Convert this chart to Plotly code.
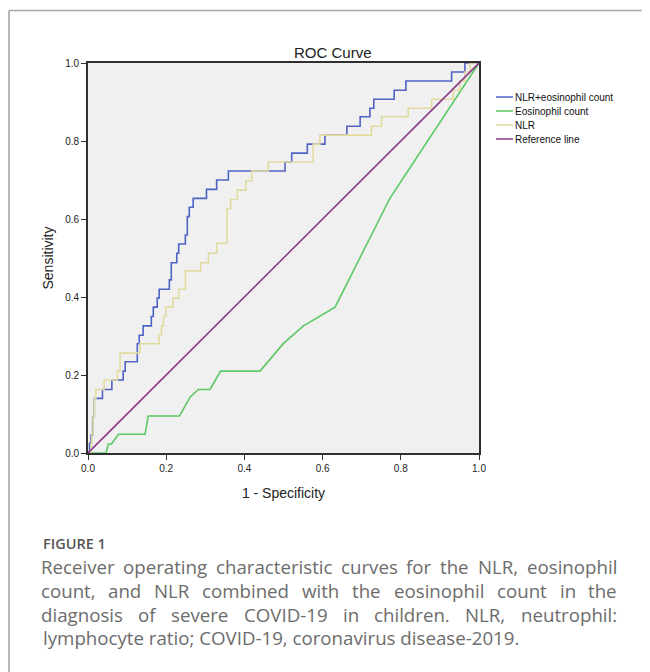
import plotly.graph_objects as go

# ---------------- data ----------------
series_names = ["NLR+eosinophil count", "Eosinophil count", "NLR", "Reference line"]

nlr_eos_fpr = [0.0, 0.004, 0.008, 0.012, 0.016, 0.037, 0.061, 0.090, 0.095, 0.126, 0.131,
               0.141, 0.162, 0.167, 0.177, 0.182, 0.208, 0.213, 0.227, 0.232, 0.249, 0.254,
               0.259, 0.269, 0.303, 0.329, 0.359, 0.504, 0.521, 0.561, 0.606, 0.662, 0.696,
               0.721, 0.731, 0.783, 0.813, 0.930, 0.964, 1.0]
nlr_eos_tpr = [0.0, 0.025, 0.046, 0.093, 0.140, 0.163, 0.187, 0.210, 0.234, 0.280, 0.302,
               0.326, 0.350, 0.374, 0.397, 0.420, 0.444, 0.488, 0.512, 0.536, 0.559, 0.606,
               0.630, 0.653, 0.676, 0.700, 0.723, 0.746, 0.769, 0.792, 0.815, 0.838, 0.862,
               0.884, 0.907, 0.930, 0.954, 0.977, 1.0, 1.0]

eos_fpr = [0.0, 0.046, 0.052, 0.060, 0.078, 0.146, 0.154, 0.234, 0.261, 0.282, 0.312,
           0.339, 0.440, 0.500, 0.551, 0.632, 0.772, 1.0]
eos_tpr = [0.0, 0.0, 0.023, 0.023, 0.048, 0.048, 0.095, 0.095, 0.143, 0.163, 0.163,
           0.210, 0.210, 0.281, 0.326, 0.374, 0.653, 1.0]

nlr_fpr = [0.0, 0.008, 0.010, 0.013, 0.016, 0.020, 0.041, 0.075, 0.082, 0.133, 0.182,
           0.188, 0.193, 0.199, 0.217, 0.232, 0.249, 0.288, 0.308, 0.329, 0.355, 0.365,
           0.382, 0.404, 0.419, 0.461, 0.576, 0.593, 0.725, 0.751, 0.819, 0.879, 0.934,
           0.951, 0.964, 0.977, 1.0]
nlr_tpr = [0.0, 0.025, 0.050, 0.093, 0.140, 0.163, 0.187, 0.210, 0.256, 0.280, 0.302,
           0.326, 0.350, 0.374, 0.397, 0.420, 0.467, 0.488, 0.512, 0.538, 0.627, 0.650,
           0.674, 0.698, 0.723, 0.746, 0.792, 0.815, 0.838, 0.862, 0.884, 0.907, 0.930,
           0.954, 0.977, 1.0, 1.0]

ref_fpr = [0.0, 1.0]
ref_tpr = [0.0, 1.0]

tick_vals = [0.0, 0.2, 0.4, 0.6, 0.8, 1.0]
tick_text = ["0.0", "0.2", "0.4", "0.6", "0.8", "1.0"]

chart_title = "ROC Curve"
x_title = "1 - Specificity"
y_title = "Sensitivity"
caption_head = "FIGURE 1"
caption_lines = [
    "Receiver operating characteristic curves for the NLR, eosinophil",
    "count, and NLR combined with the eosinophil count in the",
    "diagnosis of severe COVID-19 in children. NLR, neutrophil:",
    "lymphocyte ratio; COVID-19, coronavirus disease-2019.",
]

# ---------------- styles ----------------
colors = ["#4f63c4", "#5cc964", "#e2dba0", "#8c3a8c"]
shapes_mode = ["hv", "linear", "hv", "linear"]
CHART_FONT = "Liberation Sans, Arial, sans-serif"
CAP_FONT = "Open Sans, Noto Sans, sans-serif"

# page body has an 8px margin: lay the figure out 8px up/left of the target picture
OFF = 8
W, H = 650 - OFF, 672 - OFF
ML, MT = 88 - OFF, 63 - OFF
PW, PH = 391, 390
MR = W - ML - PW
MB = H - MT - PH


def px(x):
    # picture x-pixel -> paper coordinate
    return (x - OFF - ML) / PW


def py(y):
    # picture y-pixel -> paper coordinate
    return (MT + PH - (y - OFF)) / PH


fig = go.Figure()
xs = [nlr_eos_fpr, eos_fpr, nlr_fpr, ref_fpr]
ys = [nlr_eos_tpr, eos_tpr, nlr_tpr, ref_tpr]
for name, x, y, c, sh in zip(series_names, xs, ys, colors, shapes_mode):
    fig.add_trace(go.Scatter(x=x, y=y, mode="lines", name=name,
                             line=dict(color=c, width=1.6, shape=sh),
                             showlegend=False, hoverinfo="skip"))

annotations = []
shapes = []

# title
annotations.append(dict(text=chart_title, x=px(333), y=py(52), xref="paper", yref="paper",
                        showarrow=False, xanchor="center", yanchor="middle",
                        font=dict(family=CHART_FONT, size=15, color="#222")))

# custom compact legend
leg_y = [97, 111, 125, 139]
for name, c, yy in zip(series_names, colors, leg_y):
    shapes.append(dict(type="line", xref="paper", yref="paper",
                       x0=px(496), x1=px(513), y0=py(yy), y1=py(yy),
                       line=dict(color=c, width=1.5)))
    annotations.append(dict(text=name, x=px(513), y=py(yy), xref="paper", yref="paper",
                            showarrow=False, xanchor="left", yanchor="middle",
                            font=dict(family=CHART_FONT, size=10, color="#111")))

# outer frame (left + top)
frame_col = "#a8a8a8"
shapes.append(dict(type="line", xref="paper", yref="paper", x0=px(9), x1=px(660),
                   y0=py(10.5), y1=py(10.5), line=dict(color=frame_col, width=1.6)))
shapes.append(dict(type="line", xref="paper", yref="paper", x0=px(9), x1=px(9),
                   y0=py(10.5), y1=py(680), line=dict(color=frame_col, width=1.6)))

# caption
annotations.append(dict(text=caption_head, x=px(41), y=py(543), xref="paper", yref="paper",
                        showarrow=False, xanchor="left", yanchor="middle",
                        font=dict(family=CAP_FONT, size=14.5, color="#555", weight=600)))

# approximate Open Sans advance widths (em) for justification layout
WID = {" ": 0.26, "a": 0.556, "b": 0.613, "c": 0.476, "d": 0.613, "e": 0.561, "f": 0.339,
       "g": 0.548, "h": 0.614, "i": 0.253, "j": 0.253, "k": 0.525, "l": 0.253, "m": 0.93,
       "n": 0.614, "o": 0.604, "p": 0.613, "q": 0.613, "r": 0.408, "s": 0.477, "t": 0.353,
       "u": 0.614, "v": 0.501, "w": 0.778, "x": 0.524, "y": 0.502, "z": 0.446,
       "C": 0.631, "D": 0.722, "I": 0.295, "L": 0.531, "N": 0.755, "O": 0.779, "R": 0.609,
       "V": 0.603, "-": 0.322, ",": 0.245, ".": 0.266, ";": 0.266, ":": 0.266}
CAP_SIZE = 18.7
CAP_COLOR = "#6c6c6c"
CAP_LEFT, CAP_RIGHT = 41, 617
cap_y = [566, 590, 614, 637]


def wwidth(w):
    return sum(WID.get(ch, 0.572) for ch in w) * CAP_SIZE


for i, (line, yy) in enumerate(zip(caption_lines, cap_y)):
    if i == len(caption_lines) - 1:
        annotations.append(dict(text=line, x=px(CAP_LEFT), y=py(yy), xref="paper", yref="paper",
                                showarrow=False, xanchor="left", yanchor="middle",
                                font=dict(family=CAP_FONT, size=CAP_SIZE, color=CAP_COLOR)))
        continue
    words = line.split(" ")
    widths = [wwidth(w) for w in words]
    gap = (CAP_RIGHT - CAP_LEFT - sum(widths)) / (len(words) - 1)
    xcur = CAP_LEFT
    for w, wd in zip(words, widths):
        annotations.append(dict(text=w, x=px(xcur + wd / 2), y=py(yy), xref="paper", yref="paper",
                                showarrow=False, xanchor="center", yanchor="middle",
                                font=dict(family=CAP_FONT, size=CAP_SIZE, color=CAP_COLOR)))
        xcur += wd + gap

axis_common = dict(range=[0, 1], tickvals=tick_vals, ticktext=tick_text, showgrid=False,
                   zeroline=False, showline=True, mirror=True, linecolor="#303030", linewidth=1.6,
                   ticks="outside", ticklen=5, tickwidth=1.3, tickcolor="#303030",
                   tickfont=dict(family=CHART_FONT, size=10, color="#222"))

fig.update_layout(
    width=W, height=H, autosize=False,
    margin=dict(l=ML, r=MR, t=MT, b=MB, pad=0),
    paper_bgcolor="white", plot_bgcolor="#f0f0f0",
    xaxis=dict(**axis_common,
               title=dict(text=x_title, standoff=15,
                          font=dict(family=CHART_FONT, size=14, color="#222"))),
    yaxis=dict(**axis_common,
               title=dict(text=y_title, standoff=8,
                          font=dict(family=CHART_FONT, size=14, color="#222"))),
    annotations=annotations,
    shapes=shapes,
    showlegend=False,
)

fig.write_html("out.html")
